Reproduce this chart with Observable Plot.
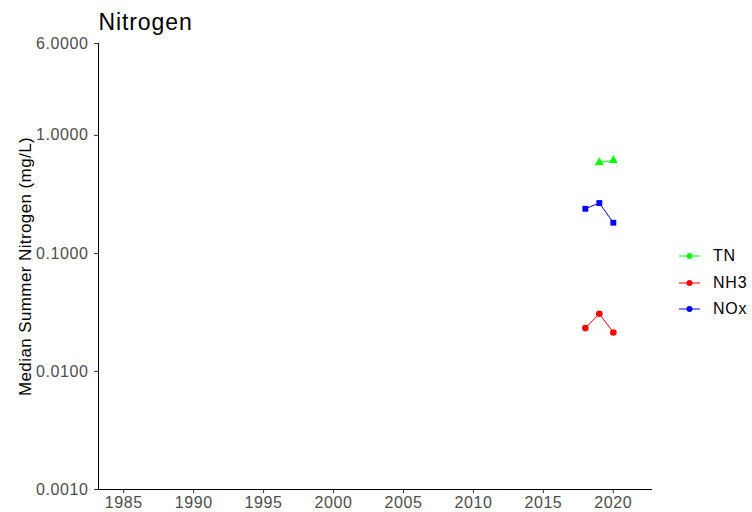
<!DOCTYPE html>
<html>
<head>
<meta charset="utf-8">
<script src="https://cdn.jsdelivr.net/npm/d3@7"></script>
<script src="https://cdn.jsdelivr.net/npm/@observablehq/plot@0.6"></script>
<style>
  html, body { margin: 0; padding: 0; background: #fff; }
  #wrap { position: relative; width: 752px; height: 512px; font-family: "Liberation Sans", Arial, sans-serif; }
  #legend { position: absolute; left: 676px; top: 243px; font-size: 16px; color: #000; letter-spacing: 0.8px; }
  .item { display: flex; align-items: center; height: 26.5px; }
  .item svg { margin-right: 11px; }
  .ttl { letter-spacing: 0.9px; }
  .ylab { letter-spacing: 0.4px; }
  .tk text, text.tk, .tk { letter-spacing: 0.6px; }
</style>
</head>
<body>
<div id="wrap"></div>
<script>
// Data
const seriesNames = ["TN", "NH3", "NOx"];
const seriesColors = ["#00FF00", "#FF0000", "#0000FF"];
const seriesSymbols = ["triangle", "circle", "square"];
const tnYears = [2019, 2020];
const tnValues = [0.59, 0.614];
const nh3Years = [2018, 2019, 2020];
const nh3Values = [0.0233, 0.0308, 0.0214];
const noxYears = [2018, 2019, 2020];
const noxValues = [0.239, 0.267, 0.182];
const xTicks = [1985, 1990, 1995, 2000, 2005, 2010, 2015, 2020];
const yTicks = [0.001, 0.01, 0.1, 1];
const yTopTick = [6];
const xDomain = [1983.2, 2022.8];
const yDomain = [0.001, 6];

const data = [
  ...tnYears.map((y, i) => ({series: "TN", year: y, value: tnValues[i]})),
  ...nh3Years.map((y, i) => ({series: "NH3", year: y, value: nh3Values[i]})),
  ...noxYears.map((y, i) => ({series: "NOx", year: y, value: noxValues[i]}))
];
const fmt = d3.format(".4f");

const plot = Plot.plot({
  width: 752,
  height: 512,
  marginLeft: 98,
  marginRight: 100,
  marginTop: 43,
  marginBottom: 23,
  style: {fontFamily: "'Liberation Sans', Arial, sans-serif", fontSize: "16px", background: "#fff"},
  x: {domain: xDomain},
  y: {type: "log", domain: yDomain},
  color: {domain: seriesNames, range: seriesColors},
  symbol: {domain: seriesNames, range: seriesSymbols},
  marks: [
    Plot.axisX({ticks: xTicks, tickFormat: "d", tickSize: 4, tickPadding: 3, stroke: "#333", color: "#4D4D4D", label: null, fontSize: 16, className: "tk"}),
    Plot.axisY({ticks: yTicks, tickFormat: fmt, tickSize: 4, tickPadding: 6, stroke: "#333", color: "#4D4D4D", label: null, fontSize: 16, className: "tk"}),
    Plot.ruleY(yTopTick, {x1: xDomain[0], x2: xDomain[0], insetLeft: -4, stroke: "#333"}),
    Plot.text(yTopTick, {y: d => d, text: d => fmt(d), frameAnchor: "left", textAnchor: "end", lineAnchor: "middle", dx: -10, fontSize: 16, fill: "#4D4D4D", className: "tk"}),
    Plot.ruleX([xDomain[0]], {stroke: "#000", strokeWidth: 1}),
    Plot.ruleY([yDomain[0]], {stroke: "#000", strokeWidth: 1}),
    Plot.line(data, {x: "year", y: "value", z: "series", stroke: "series", strokeWidth: 1}),
    Plot.dot(data, {x: "year", y: "value", fill: "series", symbol: "series", r: 3.3, stroke: null}),
    Plot.text(["Median Summer Nitrogen (mg/L)"], {frameAnchor: "left", textAnchor: "middle", lineAnchor: "middle", rotate: -90, dx: -73, fontSize: 17, fill: "#000", className: "ylab"}),
    Plot.text(["Nitrogen"], {frameAnchor: "top-left", textAnchor: "start", lineAnchor: "bottom", dy: -14, fontSize: 23, fill: "#000", className: "ttl"})
  ]
});
document.getElementById("wrap").appendChild(plot);

// Legend
const legend = document.createElement("div");
legend.id = "legend";
seriesNames.forEach((name, i) => {
  const item = document.createElement("div");
  item.className = "item";
  item.innerHTML = `<svg width="26" height="12"><line x1="3" y1="6" x2="24" y2="6" stroke="${seriesColors[i]}" stroke-width="1"/><circle cx="13.5" cy="6" r="3" fill="${seriesColors[i]}"/></svg><span>${name}</span>`;
  legend.appendChild(item);
});
document.getElementById("wrap").appendChild(legend);
</script>
</body>
</html>
